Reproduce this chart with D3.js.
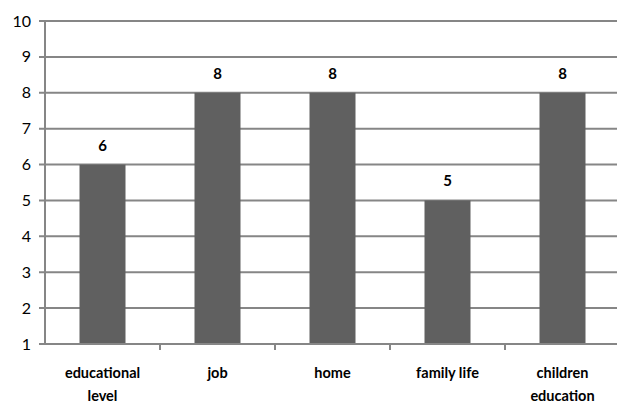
<!DOCTYPE html>
<html>
<head>
<meta charset="utf-8">
<script src="https://cdn.jsdelivr.net/npm/d3@7"></script>
<style>
  body { margin: 0; background: #fff; }
  text { font-family: Lato, "Open Sans", sans-serif; }
</style>
</head>
<body>
<div id="chart"></div>
<script>
const categories = ['educational level', 'job', 'home', 'family life', 'children education'];
const values = [6, 8, 8, 5, 8];
const yTicks = [1, 2, 3, 4, 5, 6, 7, 8, 9, 10];

const width = 617, height = 408;
const margin = { top: 21, right: -3, bottom: 64, left: 45 };
const innerW = width - margin.left - margin.right;
const innerH = height - margin.top - margin.bottom;

const svg = d3.select('#chart').append('svg')
  .attr('width', width)
  .attr('height', height);

const g = svg.append('g')
  .attr('transform', `translate(${margin.left},${margin.top})`);

const xCat = d3.scaleBand().domain(categories).range([0, innerW]);
const y = d3.scaleLinear().domain([1, 10]).range([innerH, 0]);

// gridlines
g.append('g')
  .selectAll('line')
  .data(yTicks)
  .join('line')
  .attr('x1', -6)
  .attr('x2', innerW)
  .attr('y1', d => y(d))
  .attr('y2', d => y(d))
  .attr('stroke', '#868686')
  .attr('stroke-width', 2);

// y axis line
g.append('line')
  .attr('x1', 0).attr('x2', 0)
  .attr('y1', 0).attr('y2', innerH)
  .attr('stroke', '#868686')
  .attr('stroke-width', 2);

// y labels
g.append('g')
  .selectAll('text')
  .data(yTicks)
  .join('text')
  .attr('x', -14)
  .attr('y', d => y(d))
  .attr('dy', '0.35em')
  .attr('text-anchor', 'end')
  .attr('font-size', 16)
  .attr('fill', '#000')
  .text(d => d);

// x category ticks
g.append('g')
  .selectAll('line')
  .data(categories.slice(1))
  .join('line')
  .attr('x1', d => xCat(d))
  .attr('x2', d => xCat(d))
  .attr('y1', innerH)
  .attr('y2', innerH + 6)
  .attr('stroke', '#868686')
  .attr('stroke-width', 2);

// bars
g.append('g')
  .selectAll('rect')
  .data(values)
  .join('rect')
  .attr('x', (d, i) => xCat(categories[i]) + xCat.bandwidth() * 0.3)
  .attr('width', xCat.bandwidth() * 0.4)
  .attr('y', d => y(d))
  .attr('height', d => innerH - y(d) - 1)
  .attr('fill', '#606060');

// value labels
g.append('g')
  .selectAll('text')
  .data(values)
  .join('text')
  .attr('x', (d, i) => xCat(categories[i]) + xCat.bandwidth() / 2)
  .attr('y', d => y(d) - 14)
  .attr('text-anchor', 'middle')
  .attr('font-size', 15)
  .attr('font-weight', 'bold')
  .attr('fill', '#000')
  .text(d => d);

// category labels (wrapped)
const wrapped = {
  'educational level': ['educational', 'level'],
  'children education': ['children', 'education']
};
const catLabels = g.append('g')
  .selectAll('text')
  .data(categories)
  .join('text')
  .attr('x', d => xCat(d) + xCat.bandwidth() / 2)
  .attr('y', innerH + 34)
  .attr('text-anchor', 'middle')
  .attr('font-size', 14.5)
  .attr('font-weight', 'bold')
  .attr('fill', '#000');

catLabels.each(function (d) {
  const lines = wrapped[d] || [d];
  const el = d3.select(this);
  lines.forEach((ln, i) => {
    el.append('tspan')
      .attr('x', xCat(d) + xCat.bandwidth() / 2)
      .attr('dy', i === 0 ? 0 : 23)
      .text(ln);
  });
});
</script>
</body>
</html>
